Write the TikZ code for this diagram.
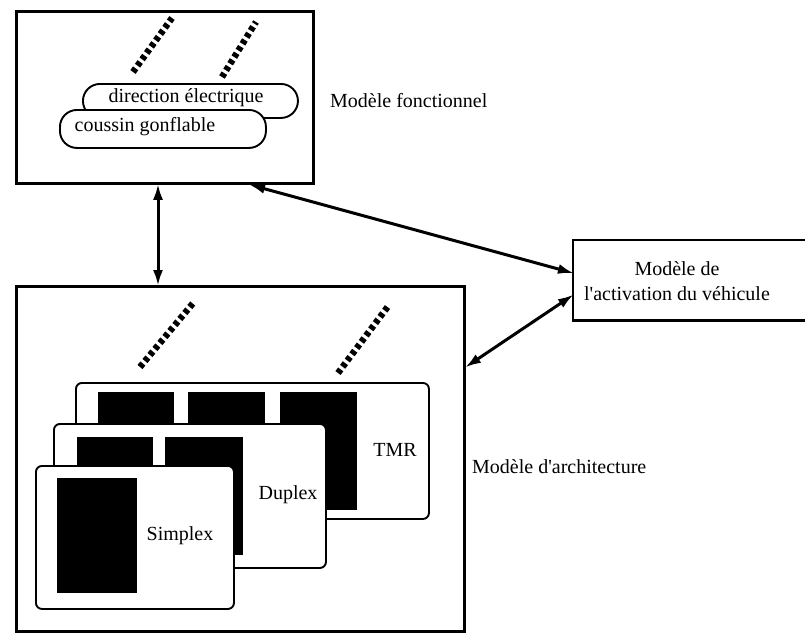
\documentclass[tikz,border=0pt]{standalone}
\usepackage{fontspec}
\setmainfont{Liberation Serif}
\usetikzlibrary{arrows.meta}
\begin{document}
\begin{tikzpicture}[x=1pt,y=-1pt,
  box/.style={draw,line width=2.8pt,anchor=north west,inner sep=0pt},
  openbox/.style={line width=2.8pt},
  pill/.style={draw,line width=1.9pt,fill=white,rounded corners=17pt,anchor=north west,inner sep=0pt},
  card/.style={draw,line width=1.9pt,fill=white,rounded corners=6pt,anchor=north west,inner sep=0pt},
  chip/.style={fill=black,anchor=north west,inner sep=0pt},
  hatch/.style={line width=6.5pt,dash pattern=on 4.5pt off 3.3pt},
  biarrow/.style={line width=3pt,{Latex[length=16pt,width=10pt]}-{Latex[length=16pt,width=10pt]},shorten <=-1pt,shorten >=-1pt},
  lbl/.style={font=\fontsize{20}{24}\selectfont,inner sep=0pt}]
\useasboundingbox (0,0) rectangle (805,635);

% functional model
\node[box,minimum width=297pt,minimum height=172pt] (fonc) at (15,10) {};
\draw[hatch] (133,72) -- (172,18);
\draw[hatch] (222,77) -- (256,22);
\node[pill,minimum width=215pt,minimum height=34pt] (dir) at (82,83) {};
\node[lbl] at (186,98) {direction électrique};
\node[pill,minimum width=206pt,minimum height=38pt] (cou) at (59,109) {};
\node[lbl] at (145,127) {coussin gonflable};
\node[lbl,anchor=west] (foncl) at (330,101) {Modèle fonctionnel};

% vehicle activation model: its right side lies past the border
\node[anchor=north west,inner sep=0pt,minimum width=320pt,minimum height=80pt] (act) at (573,240) {};
\draw[openbox] (act.north east) -- (act.north west) -- (act.south west) -- (act.south east);
\node[lbl,align=center] (actl) at (677,281) {Modèle de\\[1pt]l\textquotesingle activation du véhicule};

% architecture model
\node[box,minimum width=448pt,minimum height=345pt] (arch) at (15,285) {};
\draw[hatch] (140,367) -- (194,302);
\draw[hatch] (338,373) -- (389,305);
\node[lbl,anchor=west] (archl) at (472,467) {Modèle d\textquotesingle architecture};

% TMR card
\node[card,minimum width=353pt,minimum height=136pt] (tmr) at (75,382) {};
\node[chip,minimum width=76pt,minimum height=40pt] at (98,392) {};
\node[chip,minimum width=77pt,minimum height=40pt] at (188,392) {};
\node[chip,minimum width=77pt,minimum height=118pt] at (280,392) {};
\node[lbl] at (395,450) {TMR};

% duplex card
\node[card,minimum width=272pt,minimum height=144pt] (dup) at (53,423) {};
\node[chip,minimum width=76pt,minimum height=40pt] at (77,437) {};
\node[chip,minimum width=78pt,minimum height=118pt] at (165,437) {};
\node[lbl] at (288,495) {Duplex};

% simplex card
\node[card,minimum width=198pt,minimum height=143pt] (sim) at (35,465) {};
\node[chip,minimum width=80pt,minimum height=115pt] at (57,478) {};
\node[lbl] at (180,536) {Simplex};

% connectors
\coordinate (vx) at (158,0);
\coordinate (dx) at (250,0);
\coordinate (ay1) at (0,273);
\coordinate (ay2) at (0,295);
\coordinate (by) at (0,367);
\draw[biarrow] (fonc.south -| vx) -- (arch.north -| vx);
\draw[biarrow] (fonc.south -| dx) -- (act.west |- ay1);
\draw[biarrow] (arch.east |- by) -- (act.west |- ay2);
\end{tikzpicture}
\end{document}
